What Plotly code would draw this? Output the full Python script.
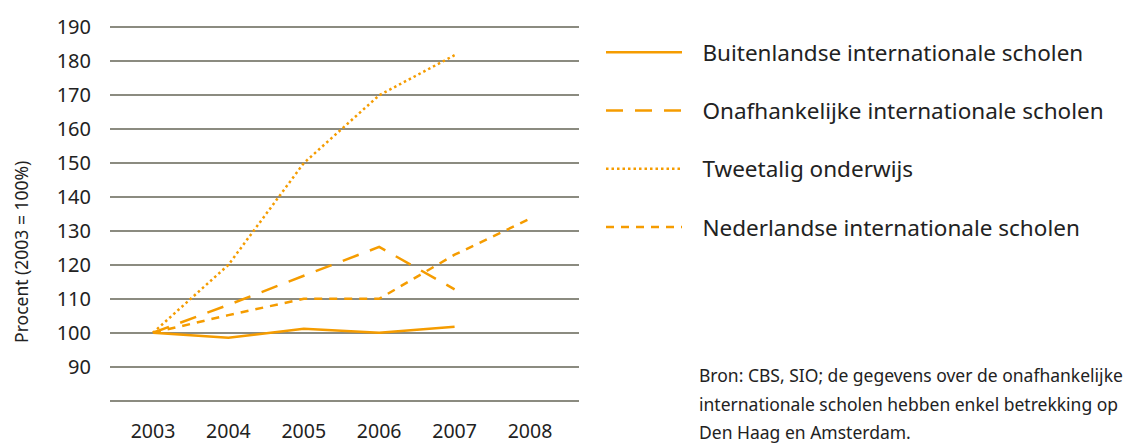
import plotly.graph_objects as go

years = [2003, 2004, 2005, 2006, 2007, 2008]
buitenlandse = [100, 98.5, 101.2, 100, 101.8]
onafhankelijke = [100, 108.2, 116.8, 125.3, 112.8]
tweetalig = [100, 120, 150, 170, 181.8]
nederlandse = [100, 105.2, 110, 110, 123, 133.6]
series_names = ["Buitenlandse internationale scholen",
                "Onafhankelijke internationale scholen",
                "Tweetalig onderwijs",
                "Nederlandse internationale scholen"]
y_ticks = [80, 90, 100, 110, 120, 130, 140, 150, 160, 170, 180, 190]
y_ticktext = ["", "90", "100", "110", "120", "130", "140", "150", "160", "170", "180", "190"]
footnote = ["Bron: CBS, SIO; de gegevens over de onafhankelijke",
            "internationale scholen hebben enkel betrekking op",
            "Den Haag en Amsterdam."]

# page body has an 8px default margin: size the figure so it fits the window
OFF = 8
W, H = 1136 - OFF, 445 - OFF
ML = 110 - OFF
PR = 579 - OFF
MR = W - PR
MT = 23.6 - OFF
PB = 404.4 - OFF
MB = H - PB
PW, PH = W - ML - MR, H - MT - MB


def px_x(x):  # x in reference-screen pixels -> paper coordinate
    return (x - OFF - ML) / PW


def px_y(y):
    return (PB - (y - OFF)) / PH


ORANGE = "#f59c00"
FONT = "Noto Sans"
TXT = "#222222"
NB = "\u00a0\u00a0\u2009"

fig = go.Figure()
data = [buitenlandse, onafhankelijke, tweetalig, nederlandse]
dashes = ["solid", "17px,12px", "2.5px,3px", "8px,7px"]
for i, (name, vals, d) in enumerate(zip(series_names, data, dashes)):
    fig.add_trace(go.Scatter(
        x=years[:len(vals)], y=vals, mode="lines", name=NB + name,
        legendgroup=str(i),
        line=dict(color=ORANGE, width=2.5, dash=d),
        hoverinfo="skip"))

fig.update_layout(
    width=W, height=H,
    margin=dict(l=ML, r=MR, t=MT, b=MB, pad=0, autoexpand=False),
    paper_bgcolor="white", plot_bgcolor="white",
    font=dict(family=FONT, color=TXT, size=19),
    showlegend=True,
    legend=dict(xref="container", yref="container",
                x=(601 - OFF) / W, y=1 - (31 - OFF) / H,
                xanchor="left", yanchor="top",
                font=dict(size=22.5, family=FONT, color=TXT),
                tracegroupgap=26, itemwidth=76, bgcolor="rgba(0,0,0,0)",
                traceorder="grouped", maxheight=H),
    xaxis=dict(range=[2002.43, 2008.65], tickvals=years,
               ticktext=[str(y) for y in years],
               showgrid=False, zeroline=False, showline=False,
               ticks="", ticklabelstandoff=13, automargin=False,
               tickfont=dict(size=19.5, family=FONT, color=TXT)),
    yaxis=dict(range=[79, 191], tickvals=y_ticks, ticktext=y_ticktext,
               showgrid=True, gridcolor="#8b8b80", gridwidth=2,
               zeroline=False, showline=False, ticks="",
               ticklabelstandoff=18, automargin=False,
               tickfont=dict(size=20, family=FONT, color=TXT)),
)

fig.add_annotation(text="Procent (2003 = 100%)", textangle=-90,
                   xref="paper", yref="paper", x=px_x(21), y=px_y(252),
                   xanchor="center", yanchor="middle", showarrow=False,
                   font=dict(size=17.5, family=FONT, color=TXT))

for txt, yy in zip(footnote, [375, 404, 432]):
    fig.add_annotation(text=txt, xref="paper", yref="paper",
                       x=px_x(697), y=px_y(yy), xanchor="left", yanchor="middle",
                       showarrow=False,
                       font=dict(size=17.5, family=FONT, color=TXT))

fig.write_html("out.html")
